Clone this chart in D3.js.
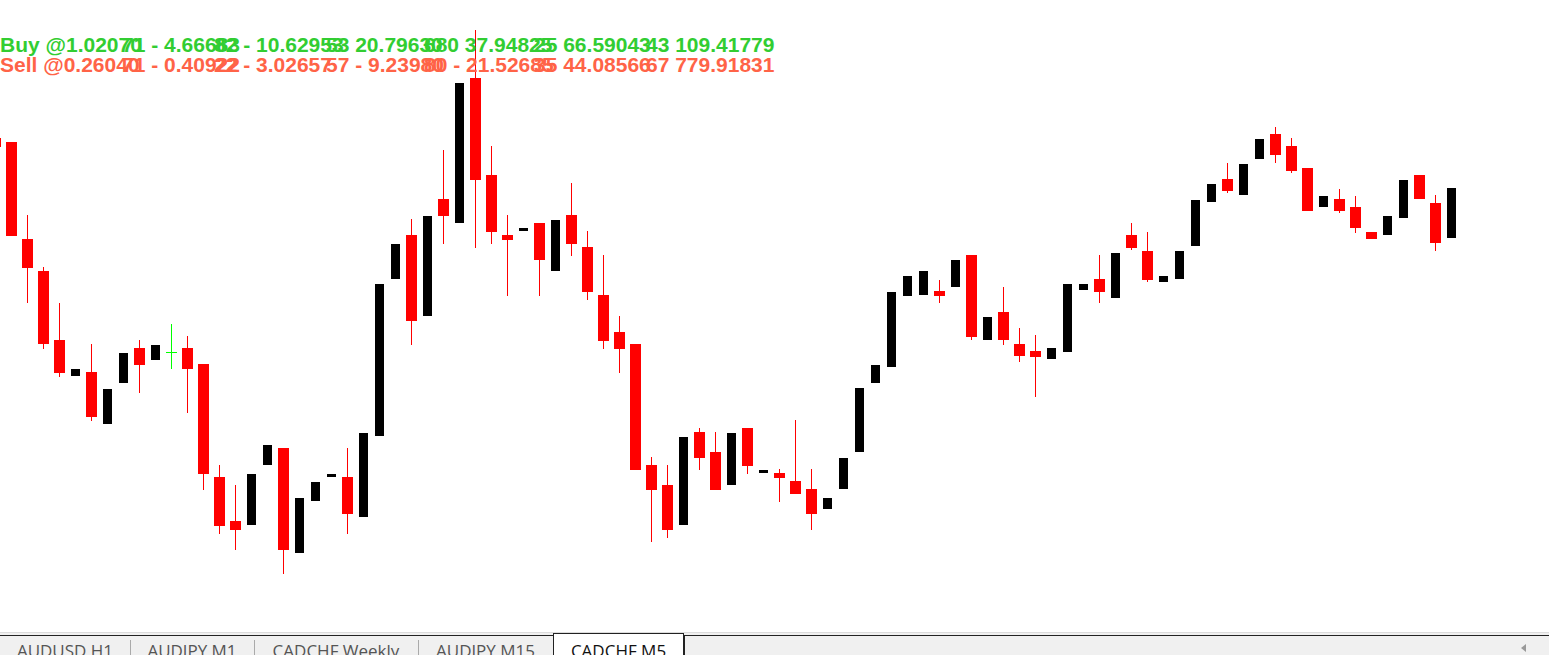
<!DOCTYPE html>
<html lang="en">
<head>
<meta charset="utf-8">
<title>CADCHF M5</title>
<script src="https://d3js.org/d3.v7.min.js"></script>
<style>
body {
  margin: 0;
  background-color: #fff;
  overflow: hidden;
}
svg { display: block; }
.lbl { font-family: "Liberation Sans", Arial, sans-serif; font-weight: bold; font-size: 21px; }
.tab { font-family: "Open Sans", "Noto Sans", sans-serif; font-size: 17px; }
</style>
</head>
<body>
<script>

// candle data, oldest first (bar -1 is cut off at the left edge)
var open  = [0.73662,0.73658,0.73561,0.73529,0.73460,0.73424,0.73428,0.73376,0.73417,0.73452,0.73440,0.73448,0.73452,0.73436,0.73323,0.73279,0.73275,0.73335,0.73352,0.73247,0.73299,0.73323,0.73323,0.73283,0.73364,0.73521,0.73565,0.73484,0.73601,0.73577,0.73722,0.73625,0.73565,0.73569,0.73577,0.73529,0.73585,0.73553,0.73505,0.73468,0.73456,0.73335,0.73315,0.73275,0.73368,0.73348,0.73315,0.73372,0.73327,0.73327,0.73319,0.73311,0.73291,0.73311,0.73348,0.73417,0.73433,0.73504,0.73505,0.73509,0.73513,0.73545,0.73460,0.73488,0.73456,0.73449,0.73441,0.73448,0.73510,0.73521,0.73502,0.73565,0.73549,0.73518,0.73521,0.73554,0.73598,0.73621,0.73605,0.73641,0.73666,0.73654,0.73632,0.73593,0.73601,0.73593,0.73568,0.73565,0.73582,0.73625,0.73597,0.73562];
var high  = [0.73662,0.73658,0.73585,0.73533,0.73497,0.73431,0.73456,0.73411,0.73447,0.73460,0.73455,0.73476,0.73464,0.73436,0.73335,0.73315,0.73326,0.73355,0.73352,0.73302,0.73318,0.73326,0.73352,0.73367,0.73516,0.73556,0.73581,0.73584,0.73650,0.73717,0.73770,0.73654,0.73585,0.73572,0.73577,0.73580,0.73617,0.73569,0.73545,0.73484,0.73456,0.73343,0.73335,0.73363,0.73372,0.73368,0.73367,0.73372,0.73330,0.73331,0.73380,0.73331,0.73302,0.73342,0.73412,0.73435,0.73508,0.73524,0.73529,0.73520,0.73540,0.73545,0.73483,0.73513,0.73472,0.73465,0.73452,0.73516,0.73516,0.73545,0.73547,0.73577,0.73568,0.73524,0.73549,0.73600,0.73616,0.73637,0.73636,0.73661,0.73673,0.73662,0.73632,0.73604,0.73611,0.73604,0.73568,0.73584,0.73620,0.73625,0.73605,0.73612];
var low   = [0.73653,0.73564,0.73497,0.73451,0.73423,0.73424,0.73379,0.73376,0.73417,0.73407,0.73440,0.73431,0.73387,0.73310,0.73266,0.73250,0.73275,0.73335,0.73226,0.73247,0.73299,0.73323,0.73266,0.73283,0.73364,0.73521,0.73455,0.73484,0.73556,0.73577,0.73552,0.73556,0.73504,0.73569,0.73504,0.73529,0.73544,0.73500,0.73451,0.73427,0.73330,0.73258,0.73262,0.73275,0.73330,0.73310,0.73315,0.73326,0.73327,0.73298,0.73306,0.73270,0.73291,0.73311,0.73348,0.73417,0.73433,0.73504,0.73505,0.73497,0.73513,0.73460,0.73460,0.73455,0.73438,0.73403,0.73441,0.73448,0.73510,0.73497,0.73502,0.73550,0.73518,0.73518,0.73521,0.73554,0.73598,0.73607,0.73605,0.73641,0.73637,0.73627,0.73589,0.73593,0.73587,0.73567,0.73561,0.73565,0.73582,0.73601,0.73549,0.73562];
var close = [0.73653,0.73564,0.73532,0.73456,0.73427,0.73431,0.73383,0.73411,0.73447,0.73435,0.73455,0.73448,0.73431,0.73326,0.73274,0.73270,0.73326,0.73355,0.73250,0.73302,0.73318,0.73326,0.73286,0.73367,0.73516,0.73556,0.73479,0.73584,0.73584,0.73717,0.73620,0.73568,0.73560,0.73572,0.73540,0.73580,0.73556,0.73508,0.73459,0.73451,0.73330,0.73310,0.73270,0.73363,0.73342,0.73310,0.73367,0.73334,0.73330,0.73322,0.73306,0.73286,0.73302,0.73342,0.73412,0.73435,0.73508,0.73524,0.73529,0.73504,0.73540,0.73463,0.73483,0.73460,0.73444,0.73443,0.73452,0.73516,0.73516,0.73508,0.73547,0.73552,0.73520,0.73524,0.73549,0.73600,0.73616,0.73609,0.73636,0.73661,0.73645,0.73629,0.73589,0.73604,0.73589,0.73572,0.73561,0.73584,0.73620,0.73601,0.73557,0.73612];

// indicator labels (two rows, drawn piece by piece so they overlap like on the terminal)
var buyLabels  = ["Buy @1.02070", "71 - 4.66683", "82 - 10.62953", "53 20.79630", "680 37.94825", "25 66.59043", "43 109.41779"];
var sellLabels = ["Sell @0.26040", "71 - 0.40922", "22 - 3.02657", "57 - 9.23980", "80 - 21.52685", "35 44.08566", "67 779.91831"];
var labelX     = [0, 122, 214, 326, 424, 534, 646];

var tabNames = ["AUDUSD H1", "AUDJPY M1", "CADCHF Weekly", "AUDJPY M15", "CADCHF M5"];
var tabEdges = [0, 130, 254, 418, 553, 684];
var activeTab = 4;

var width = 1549, height = 655;
var chartBottom = 632;

var svg = d3.select("body").append("svg").attr("width", width).attr("height", height);

var bars = open.map(function(o, i) {
  return {i: i, o: o, h: high[i], l: low[i], c: close[i]};
});

// 16 px per bar, first bar centred at x = -5
var x = d3.scaleLinear().domain([0, bars.length - 1]).range([-5, -5 + 16 * (bars.length - 1)]);
var y = d3.scaleLinear().domain([0.73168, 0.73800]).range([chartBottom, 0]);

function kind(d) {
  if (d.c > d.o) return "up";
  if (d.c < d.o) return "down";
  return "doji";
}
var wickColor = {up: "none", down: "#ff0000", doji: "#00ff00"};

var g = svg.append("g");

// wicks
g.selectAll("line.wick")
  .data(bars.filter(function(d) { return kind(d) != "up"; }))
  .enter().append("line")
  .attr("class", "wick")
  .attr("x1", function(d) { return Math.round(x(d.i)) + 0.5; })
  .attr("x2", function(d) { return Math.round(x(d.i)) + 0.5; })
  .attr("y1", function(d) { return y(d.h); })
  .attr("y2", function(d) { return y(d.l); })
  .attr("stroke", function(d) { return wickColor[kind(d)]; })
  .attr("stroke-width", 1);

// bodies
g.selectAll("rect.body")
  .data(bars.filter(function(d) { return kind(d) != "doji"; }))
  .enter().append("rect")
  .attr("class", "body")
  .attr("x", function(d) { return Math.round(x(d.i)) - (kind(d) == "down" ? 5 : 4); })
  .attr("width", function(d) { return kind(d) == "down" ? 11 : 9; })
  .attr("y", function(d) { return y(Math.max(d.o, d.c)); })
  .attr("height", function(d) { return Math.max(1, y(Math.min(d.o, d.c)) - y(Math.max(d.o, d.c))); })
  .attr("fill", function(d) { return kind(d) == "down" ? "#ff0000" : "#000"; });

// doji crosses
g.selectAll("line.doji")
  .data(bars.filter(function(d) { return kind(d) == "doji"; }))
  .enter().append("line")
  .attr("x1", function(d) { return Math.round(x(d.i)) - 5; })
  .attr("x2", function(d) { return Math.round(x(d.i)) + 6; })
  .attr("y1", function(d) { return Math.round(y(d.o)) + 0.5; })
  .attr("y2", function(d) { return Math.round(y(d.o)) + 0.5; })
  .attr("stroke", "#00ff00")
  .attr("stroke-width", 1);

// labels
var lbl = svg.append("g");
buyLabels.forEach(function(t, i) {
  lbl.append("text").attr("class", "lbl").attr("x", labelX[i]).attr("y", 52)
    .attr("fill", "#32cd32").text(t);
});
sellLabels.forEach(function(t, i) {
  lbl.append("text").attr("class", "lbl").attr("x", labelX[i]).attr("y", 72)
    .attr("fill", "#ff6347").text(t);
});

// tab bar
var tb = svg.append("g");
tb.append("rect").attr("x", 0).attr("y", 633).attr("width", width).attr("height", 22).attr("fill", "#f0f0f0");
tb.append("line").attr("x1", 0).attr("x2", width).attr("y1", 632.5).attr("y2", 632.5).attr("stroke", "#dcdcdc");
tb.append("line").attr("x1", 0).attr("x2", tabEdges[activeTab]).attr("y1", 635.5).attr("y2", 635.5).attr("stroke", "#222");
tb.append("line").attr("x1", tabEdges[activeTab + 1]).attr("x2", width).attr("y1", 635.5).attr("y2", 635.5).attr("stroke", "#222");

tabNames.forEach(function(name, i) {
  var x0 = tabEdges[i], x1 = tabEdges[i + 1];
  if (i == activeTab) {
    tb.append("rect").attr("x", x0 + 0.5).attr("y", 633.5).attr("width", x1 - x0 - 1).attr("height", 30)
      .attr("fill", "#fff").attr("stroke", "#222");
  } else if (i > 0 && i != activeTab + 1) {
    tb.append("line").attr("x1", x0 + 0.5).attr("x2", x0 + 0.5).attr("y1", 640).attr("y2", 655).attr("stroke", "#aaa");
  }
  tb.append("text").attr("class", "tab").attr("x", (x0 + x1) / 2).attr("y", 657)
    .attr("text-anchor", "middle").attr("fill", i == activeTab ? "#111" : "#555").text(name);
});

// scrollbar box and arrow
tb.append("line").attr("x1", 684.5).attr("x2", 684.5).attr("y1", 635).attr("y2", 655).attr("stroke", "#222");
tb.append("path").attr("d", "M1521,648 L1526,644 L1526,652 Z").attr("fill", "#999");

</script>
</body>
</html>
